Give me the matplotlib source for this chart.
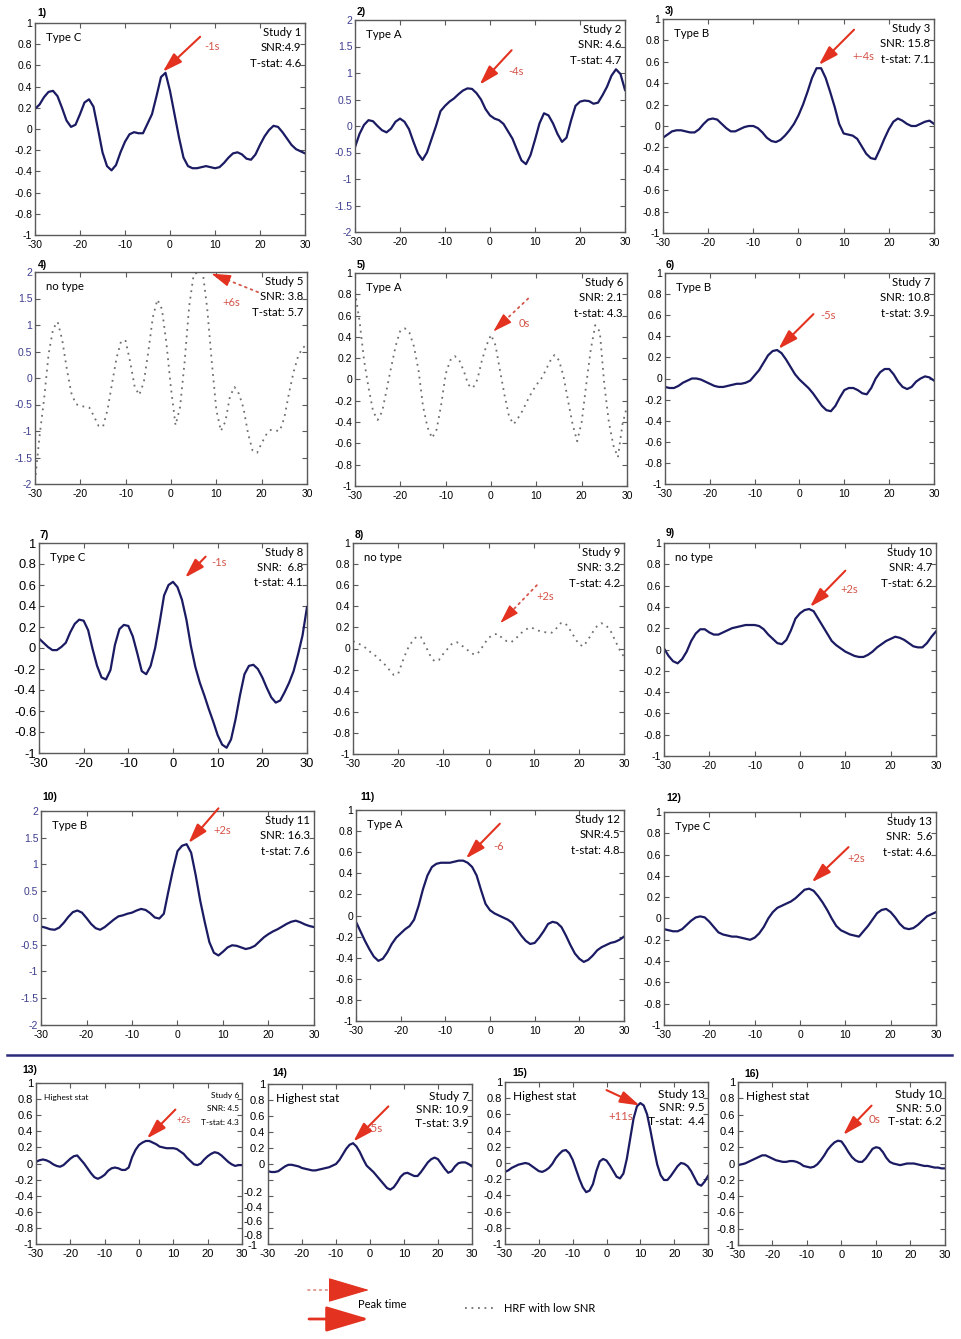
import numpy as np
import matplotlib
matplotlib.use("Agg")
import matplotlib.pyplot as plt

W, H, DPI = 962, 1339, 100

# ---------------- data ----------------
time_s = list(range(-30, 31))

hrf_1 = [0.19, 0.23, 0.30, 0.35, 0.36, 0.31, 0.20, 0.08, 0.02, 0.04,
         0.14, 0.25, 0.28, 0.21, 0.00, -0.22, -0.35, -0.39, -0.34, -0.22,
         -0.12, -0.05, -0.03, -0.04, -0.04, 0.05, 0.14, 0.31, 0.49, 0.53,
         0.36, 0.14, -0.08, -0.27, -0.35, -0.37, -0.37, -0.36, -0.35, -0.36,
         -0.37, -0.36, -0.32, -0.27, -0.23, -0.22, -0.24, -0.28, -0.29, -0.24,
         -0.15, -0.07, -0.01, 0.03, 0.02, -0.03, -0.09, -0.15, -0.19, -0.21,
         -0.23]
hrf_2 = [-0.40, -0.15, 0.02, 0.11, 0.09, 0.00, -0.08, -0.12, -0.05, 0.08,
         0.14, 0.08, -0.06, -0.30, -0.52, -0.64, -0.50, -0.25, 0.00, 0.28,
         0.38, 0.46, 0.52, 0.60, 0.67, 0.71, 0.70, 0.62, 0.50, 0.32,
         0.20, 0.14, 0.11, 0.04, -0.10, -0.24, -0.45, -0.65, -0.72, -0.55,
         -0.26, 0.05, 0.24, 0.20, 0.05, -0.15, -0.30, -0.22, 0.10, 0.38,
         0.46, 0.48, 0.47, 0.42, 0.44, 0.58, 0.74, 0.95, 1.07, 0.98,
         0.68]
hrf_3 = [-0.11, -0.08, -0.05, -0.04, -0.04, -0.05, -0.06, -0.06, -0.03, 0.02,
         0.06, 0.07, 0.06, 0.02, -0.02, -0.05, -0.05, -0.03, -0.01, 0.00,
         0.00, -0.02, -0.06, -0.11, -0.14, -0.15, -0.13, -0.09, -0.04, 0.02,
         0.10, 0.20, 0.32, 0.45, 0.54, 0.54, 0.45, 0.32, 0.18, 0.02,
         -0.07, -0.08, -0.09, -0.12, -0.19, -0.26, -0.30, -0.31, -0.22, -0.12,
         -0.03, 0.04, 0.07, 0.05, 0.02, 0.00, 0.00, 0.02, 0.04, 0.05,
         0.02]
hrf_4 = [-1.95, -1.10, -0.40, 0.45, 0.93, 1.06, 0.72, 0.18, -0.28, -0.49,
         -0.53, -0.54, -0.56, -0.72, -0.90, -0.92, -0.60, -0.10, 0.38, 0.70,
         0.70, 0.30, -0.17, -0.32, -0.08, 0.50, 1.15, 1.48, 1.30, 0.65,
         -0.20, -0.89, -0.55, 0.30, 1.35, 1.95, 2.00, 2.00, 1.30, 0.30,
         -0.60, -1.00, -0.82, -0.35, -0.17, -0.30, -0.57, -1.05, -1.37, -1.41,
         -1.23, -1.07, -0.98, -0.99, -1.00, -0.75, -0.30, 0.10, 0.40, 0.57,
         0.62]
hrf_5 = [0.82, 0.55, 0.18, -0.08, -0.30, -0.38, -0.30, -0.09, 0.12, 0.32,
         0.46, 0.48, 0.44, 0.31, 0.09, -0.25, -0.45, -0.55, -0.47, -0.24,
         0.05, 0.18, 0.22, 0.18, 0.08, -0.05, -0.08, 0.00, 0.18, 0.32,
         0.42, 0.32, 0.08, -0.15, -0.35, -0.42, -0.36, -0.29, -0.20, -0.12,
         -0.05, 0.00, 0.08, 0.17, 0.23, 0.18, 0.03, -0.20, -0.42, -0.58,
         -0.40, -0.05, 0.28, 0.51, 0.45, -0.05, -0.40, -0.62, -0.73, -0.42,
         -0.25]
hrf_6 = [-0.08, -0.09, -0.09, -0.07, -0.04, -0.02, 0.00, 0.00, -0.01, -0.03,
         -0.05, -0.07, -0.08, -0.08, -0.07, -0.06, -0.05, -0.05, -0.04, -0.02,
         0.03, 0.08, 0.15, 0.22, 0.26, 0.27, 0.24, 0.18, 0.11, 0.04,
         -0.01, -0.05, -0.09, -0.14, -0.20, -0.26, -0.30, -0.31, -0.26, -0.18,
         -0.11, -0.09, -0.09, -0.11, -0.14, -0.15, -0.09, 0.00, 0.06, 0.09,
         0.09, 0.04, -0.03, -0.08, -0.10, -0.08, -0.03, 0.00, 0.02, 0.01,
         -0.02]
hrf_7 = [0.09, 0.05, 0.01, -0.02, -0.02, 0.01, 0.05, 0.15, 0.23, 0.27,
         0.26, 0.17, -0.01, -0.17, -0.28, -0.30, -0.21, 0.03, 0.18, 0.22,
         0.21, 0.11, -0.05, -0.22, -0.25, -0.17, 0.00, 0.24, 0.50, 0.60,
         0.63, 0.58, 0.46, 0.27, 0.02, -0.18, -0.33, -0.45, -0.58, -0.70,
         -0.83, -0.92, -0.95, -0.87, -0.68, -0.45, -0.25, -0.17, -0.16, -0.20,
         -0.28, -0.38, -0.47, -0.52, -0.50, -0.42, -0.33, -0.22, -0.06, 0.12,
         0.39]
hrf_8 = [0.07, 0.05, 0.03, 0.00, -0.04, -0.07, -0.11, -0.15, -0.20, -0.25,
         -0.24, -0.12, -0.01, 0.06, 0.11, 0.11, 0.03, -0.06, -0.12, -0.11,
         -0.05, 0.00, 0.05, 0.06, 0.03, 0.00, -0.04, -0.06, -0.03, 0.04,
         0.10, 0.13, 0.14, 0.10, 0.07, 0.06, 0.09, 0.14, 0.17, 0.20,
         0.19, 0.17, 0.16, 0.15, 0.15, 0.19, 0.24, 0.24, 0.18, 0.11,
         0.04, 0.02, 0.08, 0.15, 0.21, 0.24, 0.22, 0.17, 0.08, -0.01,
         -0.08]
hrf_9 = [0.01, -0.06, -0.11, -0.13, -0.09, -0.02, 0.08, 0.15, 0.19, 0.19,
         0.16, 0.14, 0.14, 0.16, 0.18, 0.20, 0.21, 0.22, 0.23, 0.23,
         0.23, 0.22, 0.19, 0.14, 0.10, 0.06, 0.05, 0.09, 0.18, 0.29,
         0.34, 0.37, 0.38, 0.36, 0.29, 0.22, 0.15, 0.08, 0.04, 0.01,
         -0.02, -0.04, -0.06, -0.07, -0.07, -0.05, -0.02, 0.02, 0.05, 0.08,
         0.10, 0.12, 0.11, 0.09, 0.06, 0.03, 0.02, 0.02, 0.06, 0.12,
         0.17]
hrf_10 = [-0.16, -0.18, -0.21, -0.22, -0.18, -0.09, 0.02, 0.11, 0.14, 0.10,
          0.00, -0.11, -0.19, -0.22, -0.17, -0.10, -0.03, 0.03, 0.05, 0.08,
          0.10, 0.14, 0.17, 0.15, 0.09, 0.01, -0.01, 0.08, 0.50, 0.90,
          1.25, 1.35, 1.38, 1.22, 0.80, 0.32, -0.08, -0.45, -0.65, -0.70,
          -0.63, -0.55, -0.51, -0.52, -0.55, -0.58, -0.56, -0.52, -0.44, -0.36,
          -0.30, -0.25, -0.21, -0.16, -0.11, -0.07, -0.05, -0.08, -0.12, -0.15,
          -0.17]
hrf_11 = [-0.06, -0.15, -0.24, -0.32, -0.39, -0.43, -0.41, -0.35, -0.27, -0.21,
          -0.17, -0.13, -0.10, -0.04, 0.09, 0.25, 0.38, 0.46, 0.49, 0.50,
          0.50, 0.50, 0.51, 0.52, 0.52, 0.50, 0.46, 0.38, 0.24, 0.11,
          0.05, 0.02, 0.00, -0.02, -0.04, -0.07, -0.13, -0.19, -0.24, -0.27,
          -0.26, -0.21, -0.15, -0.08, -0.06, -0.07, -0.11, -0.19, -0.28, -0.36,
          -0.41, -0.44, -0.42, -0.38, -0.33, -0.30, -0.28, -0.26, -0.25, -0.23,
          -0.20]
hrf_12 = [-0.10, -0.11, -0.12, -0.12, -0.10, -0.06, -0.02, 0.01, 0.02, 0.01,
          -0.03, -0.08, -0.13, -0.15, -0.16, -0.17, -0.17, -0.18, -0.19, -0.20,
          -0.18, -0.14, -0.08, 0.00, 0.06, 0.10, 0.12, 0.14, 0.16, 0.19,
          0.23, 0.27, 0.28, 0.26, 0.21, 0.15, 0.08, 0.00, -0.07, -0.11,
          -0.13, -0.15, -0.16, -0.17, -0.12, -0.07, -0.01, 0.05, 0.08, 0.09,
          0.06, 0.01, -0.05, -0.09, -0.10, -0.09, -0.06, -0.02, 0.02, 0.04,
          0.06]
hrf_13 = [0.02, 0.04, 0.05, 0.04, 0.02, -0.01, -0.03, -0.04, -0.02, 0.02,
          0.06, 0.09, 0.10, 0.05, 0.00, -0.06, -0.12, -0.17, -0.19, -0.17,
          -0.14, -0.09, -0.06, -0.05, -0.06, -0.08, -0.08, -0.05, 0.08, 0.17,
          0.23, 0.26, 0.28, 0.28, 0.26, 0.24, 0.21, 0.20, 0.19, 0.19,
          0.19, 0.18, 0.15, 0.12, 0.07, 0.03, -0.01, -0.02, 0.00, 0.05,
          0.09, 0.12, 0.14, 0.13, 0.10, 0.06, 0.02, -0.01, -0.03, -0.02,
          -0.02]
hrf_14 = [-0.09, -0.10, -0.10, -0.09, -0.06, -0.03, -0.01, -0.01, -0.02, -0.03,
          -0.05, -0.06, -0.07, -0.08, -0.08, -0.07, -0.06, -0.05, -0.04, -0.02,
          0.00, 0.05, 0.12, 0.19, 0.24, 0.26, 0.22, 0.15, 0.06, -0.02,
          -0.06, -0.10, -0.15, -0.20, -0.25, -0.30, -0.32, -0.29, -0.23, -0.16,
          -0.12, -0.11, -0.13, -0.15, -0.15, -0.10, -0.04, 0.02, 0.06, 0.08,
          0.06, 0.00, -0.06, -0.11, -0.09, -0.03, 0.01, 0.02, 0.02, 0.00,
          -0.03]
hrf_15 = [-0.11, -0.09, -0.06, -0.04, -0.02, -0.01, 0.00, -0.01, -0.04, -0.07,
          -0.10, -0.11, -0.09, -0.06, -0.01, 0.06, 0.11, 0.15, 0.16, 0.12,
          0.04, -0.08, -0.20, -0.30, -0.36, -0.34, -0.26, -0.10, 0.02, 0.05,
          0.03, -0.03, -0.10, -0.17, -0.19, -0.13, 0.05, 0.30, 0.55, 0.70,
          0.74, 0.71, 0.60, 0.40, 0.18, -0.02, -0.15, -0.21, -0.21, -0.16,
          -0.10, -0.04, 0.00, -0.01, -0.04, -0.10, -0.18, -0.26, -0.28, -0.23,
          -0.16]
hrf_16 = [-0.02, -0.01, 0.00, 0.02, 0.04, 0.06, 0.08, 0.10, 0.10, 0.08,
          0.06, 0.04, 0.03, 0.02, 0.02, 0.03, 0.03, 0.02, 0.00, -0.03,
          -0.04, -0.05, -0.04, -0.01, 0.04, 0.10, 0.17, 0.22, 0.26, 0.28,
          0.27, 0.21, 0.14, 0.08, 0.04, 0.02, 0.02, 0.06, 0.12, 0.18,
          0.20, 0.19, 0.14, 0.07, 0.02, 0.00, -0.01, -0.02, -0.01, 0.00,
          0.00, 0.00, -0.01, -0.02, -0.03, -0.03, -0.04, -0.05, -0.05, -0.06,
          -0.06]

hrf_series = [hrf_1, hrf_2, hrf_3, hrf_4, hrf_5, hrf_6, hrf_7, hrf_8,
              hrf_9, hrf_10, hrf_11, hrf_12, hrf_13, hrf_14, hrf_15, hrf_16]

panel_ids = ["1)", "2)", "3)", "4)", "5)", "6)", "7)", "8)", "9)", "10)",
             "11)", "12)", "13)", "14)", "15)", "16)"]
hrf_types = ["Type C", "Type A", "Type B", "no type", "Type A", "Type B",
             "Type C", "no type", "no type", "Type B", "Type A", "Type C",
             "Highest stat", "Highest stat", "Highest stat", "Highest stat"]
study_names = ["Study 1", "Study 2", "Study 3", "Study 5", "Study 6", "Study 7",
               "Study 8", "Study 9", "Study 10", "Study 11", "Study 12", "Study 13",
               "Study 6", "Study 7", "Study 13", "Study 10"]
snr_text = ["SNR:4.9", "SNR: 4.6", "SNR: 15.8", "SNR: 3.8", "SNR: 2.1", "SNR: 10.8",
            "SNR:  6.8", "SNR: 3.2", "SNR: 4.7", "SNR: 16.3", "SNR:4.5", "SNR:  5.6",
            "SNR: 4.5", "SNR: 10.9", "SNR: 9.5", "SNR: 5.0"]
stat_text = ["T-stat: 4.6", "T-stat: 4.7", "t-stat: 7.1", "T-stat: 5.7", "t-stat: 4.3",
             "t-stat: 3.9", "t-stat: 4.1", "T-stat: 4.2", "T-stat: 6.2", "t-stat: 7.6",
             "t-stat: 4.8", "t-stat: 4.6", "T-stat: 4.3", "T-stat: 3.9", "T-stat:  4.4",
             "T-stat: 6.2"]
peak_text = ["-1s", "-4s", "+-4s", "+6s", "0s", "-5s", "-1s", "+2s", "+2s", "+2s",
             "-6", "+2s", "+2s", "-5s", "+11s", "0s"]
low_snr = [False, False, False, True, True, False, False, True,
           False, False, False, False, False, False, False, False]
y_half_range = [1, 2, 1, 2, 1, 1, 1, 1, 1, 2, 1, 1, 1, 1, 1, 1]

x_ticks = [-30, -20, -10, 0, 10, 20, 30]
y_ticks_1 = [-1, -0.8, -0.6, -0.4, -0.2, 0, 0.2, 0.4, 0.6, 0.8, 1]
y_ticks_2 = [-2, -1.5, -1, -0.5, 0, 0.5, 1, 1.5, 2]

for s in hrf_series:
    assert len(s) == len(time_s)

# ---------------- layout (pixels) ----------------
boxes = [(35, 23, 305, 235), (355, 20, 625, 232), (663, 19, 934, 233),
         (35, 272, 307, 484), (355, 273, 627, 486), (665, 273, 934, 484),
         (39, 543, 307, 753), (353, 543, 624, 754), (664, 543, 936, 756),
         (41, 811, 314, 1025), (356, 810, 624, 1021), (664, 812, 936, 1025),
         (36, 1083, 242, 1244), (268, 1084, 472, 1244), (505, 1082, 708, 1244),
         (738, 1082, 945, 1245)]
id_pos = [(37, 13), (357, 12), (665, 11), (38, 265), (357, 265), (666, 265),
          (40, 535), (355, 535), (666, 533), (42, 797), (360, 797), (666, 798),
          (22, 1070), (272, 1073), (512, 1073), (744, 1074)]
# arrow (tail, head) and label anchor, in each panel's data units
arrow_geo = [((6.7, 0.87), (-1.6, 0.54), (7.6, 0.78)),
             ((4.8, 1.43), (-2.3, 0.78), (4.0, 1.02)),
             ((12.3, 0.90), (4.5, 0.57), (11.9, 0.65)),
             ((19.2, 1.62), (8.9, 1.97), (11.4, 1.43)),
             ((8.2, 0.76), (0.5, 0.45), (6.0, 0.53)),
             ((3.1, 0.61), (-4.7, 0.28), (4.6, 0.60)),
             ((7.3, 0.87), (2.7, 0.67), (8.6, 0.81)),
             ((10.7, 0.60), (2.6, 0.24), (10.5, 0.49)),
             ((10.0, 0.74), (2.2, 0.40), (9.0, 0.56)),
             ((9.0, 2.05), (2.4, 1.40), (7.8, 1.64)),
             ((2.2, 0.87), (-5.4, 0.54), (0.7, 0.65)),
             ((10.7, 0.67), (2.6, 0.34), (10.5, 0.56)),
             ((10.6, 0.67), (2.3, 0.31), (10.8, 0.54)),
             ((5.4, 0.72), (-4.9, 0.28), (-1.0, 0.45)),
             ((0.0, 0.90), (9.8, 0.71), (0.6, 0.58)),
             ((8.7, 0.71), (0.5, 0.35), (7.8, 0.54))]
text_size = [8.2] * 12 + [6, 8.6, 8.6, 8.6]
tick_size = [7.5] * 6 + [9.3] + [7.5] * 5 + [8] * 4
peak_size = [8] * 12 + [6.5, 8.5, 8.2, 8.5]

NAVY = "#1b1b63"
RED = "#e3321f"
RED_TXT = "#d4554a"
GREY_DOT = "#6e6e6e"
BLUE_TICK = "#3d3d8f"
SPINE = "#5a5a5a"
TXT_FONT = ["Lato", "DejaVu Sans"]

plt.rcParams["font.family"] = ["Liberation Sans", "DejaVu Sans"]

fig = plt.figure(figsize=(W / DPI, H / DPI), dpi=DPI)
canvas = fig.add_axes([0, 0, 1, 1])
canvas.set_xlim(0, W)
canvas.set_ylim(H, 0)
canvas.axis("off")


def rect(l, t, r, b):
    return [l / W, 1 - b / H, (r - l) / W, (b - t) / H]


def fmt(v):
    return "%g" % v


head_style = "-|>,head_length=0.85,head_width=0.26"

for i in range(16):
    l, t, r, b = boxes[i]
    ax = fig.add_axes(rect(l, t, r, b))
    yr = y_half_range[i]
    if low_snr[i]:
        ax.plot(time_s, hrf_series[i], color=GREY_DOT, lw=1.3,
                linestyle=(0, (1, 2.6)))
    else:
        ax.plot(time_s, hrf_series[i], color=NAVY, lw=1.6)
    ax.set_xlim(-30, 30)
    ax.set_ylim(-yr, yr)
    ax.set_xticks(x_ticks)
    ax.set_xticklabels([fmt(v) for v in x_ticks])
    yt = y_ticks_2 if yr == 2 else y_ticks_1
    ax.set_yticks(yt)
    if i == 13:
        # the reference has its negative labels drawn shifted downwards
        ax.set_yticklabels([fmt(v) if v >= 0 else "" for v in yt])
        shifted = [(-0.2, -0.36, -0.025), (-0.4, -0.55, -0.025), (-0.6, -0.73, -0.025),
                   (-0.8, -0.90, -0.025), (-1, -1.03, -0.05)]
        for v, pos, xo in shifted:
            ax.text(xo, pos, fmt(v), transform=ax.get_yaxis_transform(),
                    ha="right", va="center", fontsize=tick_size[i])
    else:
        ax.set_yticklabels([fmt(v) for v in yt])
    ax.tick_params(axis="both", direction="in", top=True, right=True, length=3.5,
                   width=0.8, color=SPINE, labelsize=tick_size[i])
    ax.tick_params(axis="x", pad=3.5)
    ax.tick_params(axis="y", pad=2, labelcolor=BLUE_TICK if yr == 2 else "black")
    for sp in ax.spines.values():
        sp.set_color(SPINE)
        sp.set_linewidth(1.0)

    ts = text_size[i]
    ty = 0.91 if i >= 12 else 0.93
    ax.text(0.04, ty, hrf_types[i], transform=ax.transAxes, ha="left", va="center",
            fontsize=ts, family=TXT_FONT)
    rows = [0.925, 0.84, 0.755] if i >= 12 else [0.955, 0.885, 0.81]
    for txt, yy in zip([study_names[i], snr_text[i], stat_text[i]], rows):
        ax.text(0.985, yy, txt, transform=ax.transAxes, ha="right", va="center",
                fontsize=ts, family=TXT_FONT)

    tail, head, lab = arrow_geo[i]
    if low_snr[i]:
        T = ax.transData
        hx, hy = T.transform(head)
        tx, ty2 = T.transform(tail)
        d = np.hypot(tx - hx, ty2 - hy)
        f = min(1.0, 17.0 / d)
        mid = (head[0] + f * (tail[0] - head[0]), head[1] + f * (tail[1] - head[1]))
        ax.annotate("", xy=mid, xytext=tail, annotation_clip=False,
                    arrowprops=dict(arrowstyle="-", color=RED_TXT, lw=1.3,
                                    linestyle=(0, (1, 2.4)), shrinkA=0, shrinkB=0))
        ax.annotate("", xy=head, xytext=mid, annotation_clip=False,
                    arrowprops=dict(arrowstyle=head_style, color=RED, lw=1.0,
                                    mutation_scale=14, shrinkA=0, shrinkB=0))
    else:
        ax.annotate("", xy=head, xytext=tail, annotation_clip=False,
                    arrowprops=dict(arrowstyle=head_style, color=RED, lw=1.5,
                                    mutation_scale=14, shrinkA=0, shrinkB=0))
    ax.text(lab[0], lab[1], peak_text[i], color=RED_TXT, ha="left", va="center",
            fontsize=peak_size[i], family=TXT_FONT, clip_on=False)

    canvas.text(id_pos[i][0], id_pos[i][1], panel_ids[i], ha="left", va="center",
                fontsize=7.5, fontweight="bold")

# separator line between the study panels and the "highest stat" row
canvas.plot([7, 952], [1055, 1055], color="#2a2a7a", lw=1.8)

# legend
big_head = "-|>,head_length=1.35,head_width=0.4"
canvas.annotate("", xy=(331, 1290), xytext=(308, 1290),
                arrowprops=dict(arrowstyle="-", color="#d98b82", lw=1.2,
                                linestyle=(0, (1, 2.5)), shrinkA=0, shrinkB=0))
canvas.annotate("", xy=(369, 1290), xytext=(331, 1290),
                arrowprops=dict(arrowstyle=big_head, color=RED, lw=0.8,
                                mutation_scale=20, shrinkA=0, shrinkB=0))
canvas.annotate("", xy=(369, 1319), xytext=(309, 1319),
                arrowprops=dict(arrowstyle=big_head, color=RED, lw=2.0,
                                mutation_scale=20, shrinkA=0, shrinkB=0))
canvas.text(358, 1304, "Peak time", ha="left", va="center", fontsize=8, family=TXT_FONT)
canvas.plot([465, 494], [1308, 1308], color=GREY_DOT, lw=1.3, linestyle=(0, (1, 2.6)))
canvas.text(504, 1308, "HRF with low SNR", ha="left", va="center", fontsize=8,
            family=TXT_FONT)

fig.savefig("out.png", dpi=DPI, facecolor="white")
